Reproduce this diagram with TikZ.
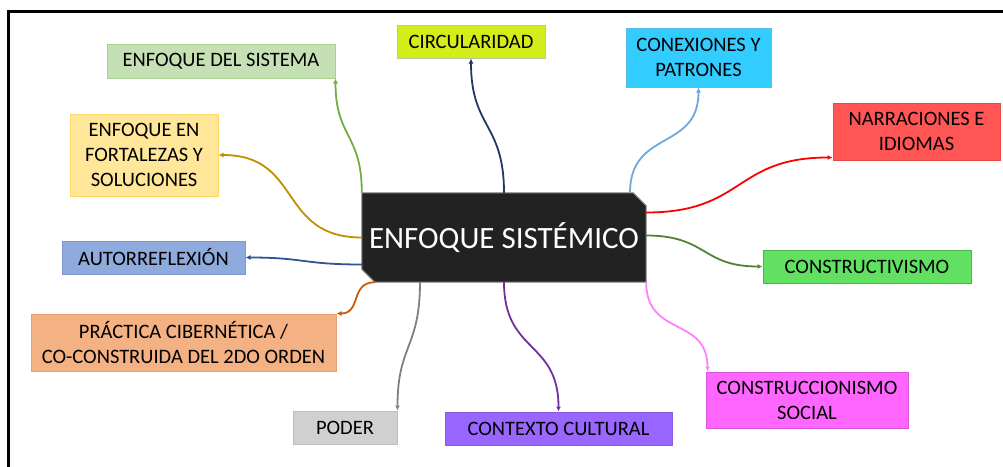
\documentclass[tikz,border=0pt]{standalone}
\usepackage{fontspec}
\setmainfont{Carlito}
\usetikzlibrary{arrows.meta,backgrounds}
\definecolor{sysfill}{HTML}{C5E0B4}\definecolor{sysline}{HTML}{A9D18E}\definecolor{syslink}{HTML}{70AD47}
\definecolor{fortfill}{HTML}{FFE699}\definecolor{fortline}{HTML}{FFD966}\definecolor{fortlink}{HTML}{BF9000}
\definecolor{circfill}{HTML}{D4EC1A}\definecolor{circline}{HTML}{B8C8A0}\definecolor{circlink}{HTML}{1F3864}
\definecolor{conxfill}{HTML}{33CCFF}\definecolor{conxline}{HTML}{5BC0E8}\definecolor{conxlink}{HTML}{6FA8DC}
\definecolor{narrfill}{HTML}{FF5555}\definecolor{narrline}{HTML}{E84848}\definecolor{narrlink}{HTML}{FF0000}
\definecolor{consfill}{HTML}{62E062}\definecolor{consline}{HTML}{4CB84C}\definecolor{conslink}{HTML}{548235}
\definecolor{socfill}{HTML}{FF66FF}\definecolor{socline}{HTML}{D955D9}\definecolor{soclink}{HTML}{FF80FF}
\definecolor{ctxfill}{HTML}{9966FF}\definecolor{ctxline}{HTML}{8A5CE0}\definecolor{ctxlink}{HTML}{7030A0}
\definecolor{podfill}{HTML}{D0D0D0}\definecolor{podline}{HTML}{BDBDBD}\definecolor{podlink}{HTML}{808080}
\definecolor{pracfill}{HTML}{F4B183}\definecolor{pracline}{HTML}{E8A070}\definecolor{praclink}{HTML}{C55A11}
\definecolor{autofill}{HTML}{8FAADC}\definecolor{autoline}{HTML}{7B97CC}\definecolor{autolink}{HTML}{2F5597}
\definecolor{corefill}{HTML}{222222}
\begin{document}
\begin{tikzpicture}[x=1pt,y=1pt,
	leaf/.style 2 args={draw=#2, fill=#1, line width=1pt, inner sep=0pt, align=center, text=black, font=\fontsize{20.5}{25}\selectfont},
	core/.style={inner sep=0pt, minimum width=284pt, minimum height=89pt, text=white, font=\fontsize{31}{36}\selectfont},
	link/.style={line width=1.8pt, draw=#1, looseness=1.3, -{Latex[length=5pt,width=5pt]}}]
	\useasboundingbox (0,0) rectangle (1003,-466);
	\draw[line width=3pt] (8.5,-500) |- (1050,-11.5);
	\def\cut{13pt}
	\node[core] (core) at (504,-237.5) {ENFOQUE SISTÉMICO};
	\begin{scope}[on background layer]
		\filldraw[fill=corefill, draw=gray, line width=1pt] (core.north west) -- ([xshift=-\cut]core.north east) -- ([yshift=-\cut]core.north east) -- (core.south east) -- ([xshift=\cut]core.south west) -- ([yshift=\cut]core.south west) -- cycle;
	\end{scope}
	\node[leaf={sysfill}{sysline}, minimum width=228pt, minimum height=34pt] (sys) at (221,-61) {ENFOQUE DEL SISTEMA};
	\node[leaf={fortfill}{fortline}, minimum width=148pt, minimum height=82pt] (fort) at (144,-155) {ENFOQUE EN\\FORTALEZAS Y\\SOLUCIONES};
	\node[leaf={circfill}{circline}, minimum width=148pt, minimum height=33pt] (circ) at (471,-41.5) {CIRCULARIDAD};
	\node[leaf={conxfill}{conxline}, minimum width=145pt, minimum height=59pt] (conx) at (698.5,-57.5) {CONEXIONES Y\\PATRONES};
	\node[leaf={narrfill}{narrline}, minimum width=167pt, minimum height=57pt] (narr) at (916.5,-131.5) {NARRACIONES E\\IDIOMAS};
	\node[leaf={consfill}{consline}, minimum width=208pt, minimum height=33pt] (cons) at (867,-266.5) {CONSTRUCTIVISMO};
	\node[leaf={socfill}{socline}, minimum width=202pt, minimum height=56pt] (soc) at (807,-400) {CONSTRUCCIONISMO\\SOCIAL};
	\node[leaf={ctxfill}{ctxline}, minimum width=227pt, minimum height=33pt] (ctx) at (558.5,-428.5) {CONTEXTO CULTURAL};
	\node[leaf={podfill}{podline}, minimum width=104pt, minimum height=33pt] (pod) at (345,-427.5) {PODER};
	\node[leaf={pracfill}{pracline}, minimum width=305pt, minimum height=57pt] (prac) at (183.5,-342.5) {PRÁCTICA CIBERNÉTICA /\\CO-CONSTRUIDA DEL 2DO ORDEN};
	\node[leaf={autofill}{autoline}, minimum width=183pt, minimum height=33pt] (auto) at (153.5,-257.5) {AUTORREFLEXIÓN};
	\draw[link=syslink] (core.north west) to[out=90,in=-90] (sys.south east);
	\draw[link=fortlink] (core.west) to[out=180,in=0] (fort.east);
	\draw[link=circlink] (core.north) to[out=90,in=-90] (circ.south);
	\draw[link=conxlink] ([xshift=126pt]core.north) to[out=90,in=-90] (conx.south);
	\draw[link=narrlink] ([yshift=25pt]core.east) to[out=0,in=180] ([yshift=3pt]narr.south west);
	\draw[link=conslink] ([yshift=2pt]core.east) to[out=0,in=180] (cons.west);
	\draw[link=soclink] (core.south east) to[out=-90,in=90] ([xshift=2pt]soc.north west);
	\draw[link=ctxlink] (core.south) to[out=-90,in=90] (ctx.north);
	\draw[link=podlink] ([xshift=-84pt]core.south) to[out=-90,in=90] (pod.north east);
	\draw[link=praclink] ([xshift=-129pt]core.south) to[out=180,in=0] (prac.north east);
	\draw[link=autolink] ([yshift=-27pt]core.west) to[out=180,in=0] (auto.east);
\end{tikzpicture}
\end{document}
